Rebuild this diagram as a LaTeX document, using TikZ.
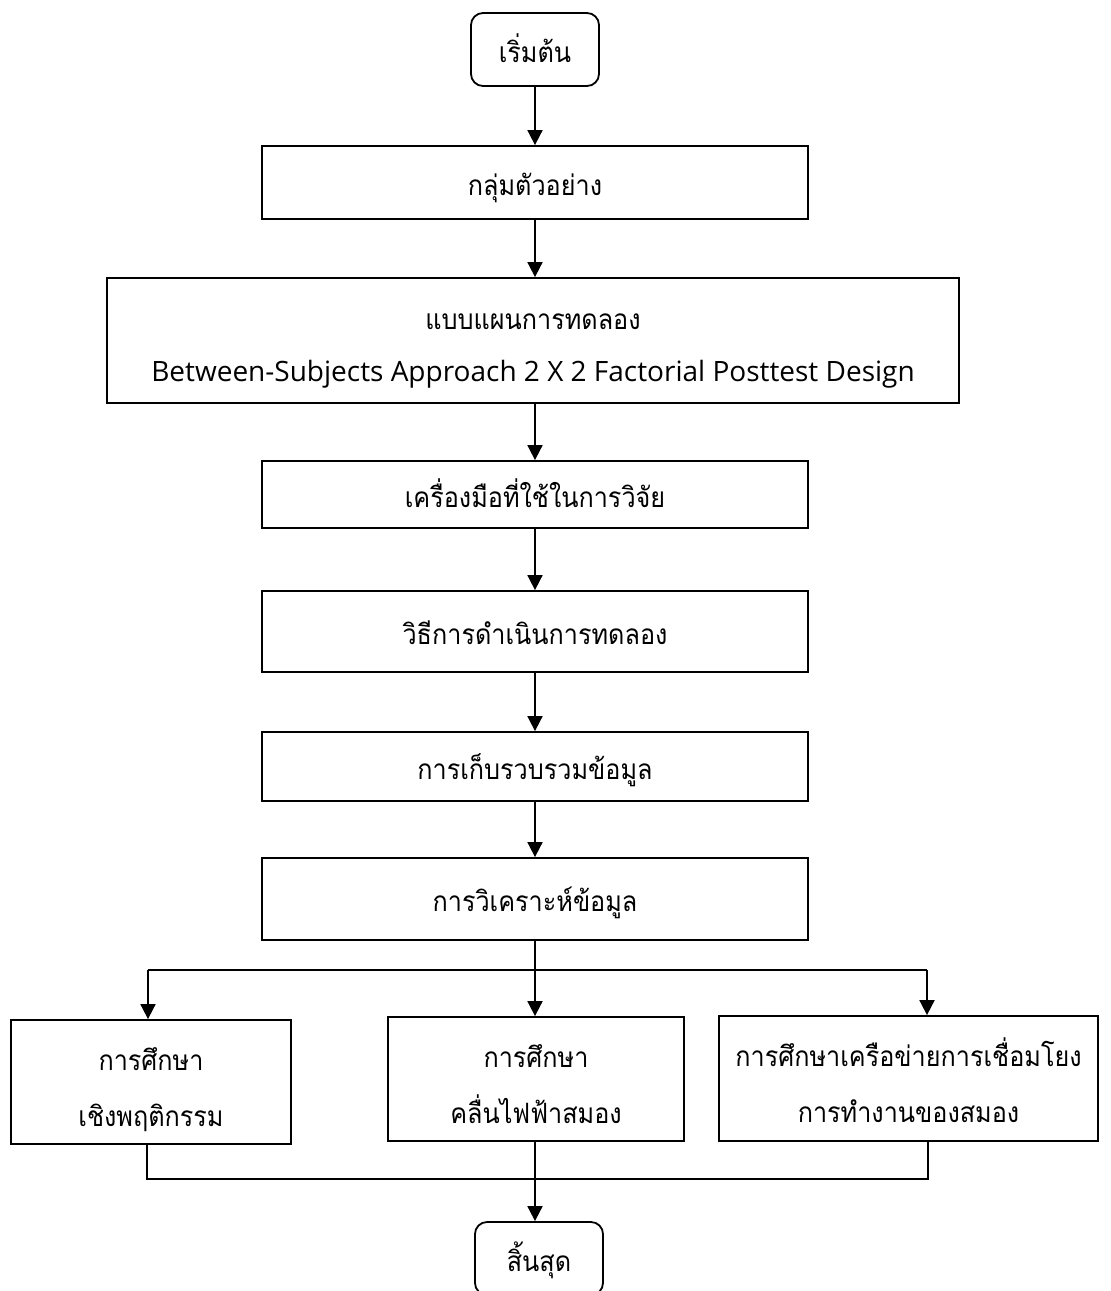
\documentclass[tikz,border=0pt]{standalone}
\usepackage{fontspec}
\usetikzlibrary{arrows.meta}
\newfontfamily\thaifont[Script=Thai,FakeStretch=0.9]{Loma}
\newfontfamily\latinfont{Open Sans}
% two centred lines, set a little below the middle of their box
\newcommand{\twolines}[2]{\raisebox{-5pt}[\height][\depth]{\begin{tabular}{@{}c@{}}#1\\#2\end{tabular}}}
\begin{document}
\begin{tikzpicture}[x=1pt,y=-1pt,
  every node/.style={font=\thaifont\fontsize{28}{56}\selectfont},
  stepbox/.style={draw,line width=1.8pt,rectangle,inner sep=0pt},
  oneline/.style={text height=32pt,text depth=7pt},
  termbox/.style={stepbox,oneline,rounded corners=12pt},
  flow/.style={line width=1.8pt,-{Triangle[width=15pt,length=15pt]}},
  joint/.style={line width=1.8pt}]
  \useasboundingbox (0,0) rectangle (1111,1291);
  \clip (0,0) rectangle (1111,1291);

  % main column
  \node[termbox,minimum width=128pt,minimum height=73pt] (start) at (535,49.5) {เริ่มต้น};
  \node[stepbox,oneline,minimum width=546pt,minimum height=73pt] (b1) at (535,182.5) {กลุ่มตัวอย่าง};
  \node[stepbox,minimum width=852pt,minimum height=125pt,
        font=\thaifont\fontsize{28}{52}\selectfont] (b2) at (533,340.5)
    {\twolines{แบบแผนการทดลอง}{\latinfont\fontsize{28}{30}\selectfont Between-Subjects Approach 2 X 2 Factorial Posttest Design}};
  \node[stepbox,oneline,minimum width=546pt,minimum height=67pt] (b3) at (535,494.5) {เครื่องมือที่ใช้ในการวิจัย};
  \node[stepbox,oneline,minimum width=546pt,minimum height=81pt] (b4) at (535,631.5) {วิธีการดำเนินการทดลอง};
  \node[stepbox,oneline,minimum width=546pt,minimum height=69pt] (b5) at (535,766.5) {การเก็บรวบรวมข้อมูล};
  \node[stepbox,oneline,minimum width=546pt,minimum height=82pt] (b6) at (535,899) {การวิเคราะห์ข้อมูล};

  % three studies
  \node[stepbox,minimum width=280pt,minimum height=124pt] (sa) at (151,1082)
    {\twolines{การศึกษา}{เชิงพฤติกรรม}};
  \node[stepbox,minimum width=296pt,minimum height=124pt] (sb) at (536,1079)
    {\twolines{การศึกษา}{คลื่นไฟฟ้าสมอง}};
  \node[stepbox,minimum width=379pt,minimum height=125pt] (sc) at (908.5,1078.5)
    {\twolines{การศึกษาเครือข่ายการเชื่อมโยง}{การทำงานของสมอง}};

  \node[termbox,minimum width=128pt,minimum height=73pt] (stop) at (539,1258.5) {สิ้นสุด};

  % vertical flow
  \draw[flow] (start.south) -- (b1.north);
  \draw[flow] (b1.south) -- (b2.north -| b1.south);
  \draw[flow] (b2.south -| b3.north) -- (b3.north);
  \draw[flow] (b3.south) -- (b4.north);
  \draw[flow] (b4.south) -- (b5.north);
  \draw[flow] (b5.south) -- (b6.north);

  % split into the three studies
  \coordinate (sl) at (148,970);
  \coordinate (sr) at (927,970);
  \draw[joint] (sl) -- (sr);
  \draw[flow] (b6.south) -- (sb.north -| b6.south);
  \draw[flow] (sl) -- (sl |- sa.north);
  \draw[flow] (sr) -- (sr |- sc.north);

  % merge towards the end
  \coordinate (ml) at (147,1179);
  \coordinate (mr) at (928,1179);
  \draw[joint] (ml |- sa.south) -- (ml) -- (mr) -- (mr |- sc.south);
  \draw[flow] (sb.south -| b6.south) -- (stop.north -| b6.south);
\end{tikzpicture}
\end{document}
